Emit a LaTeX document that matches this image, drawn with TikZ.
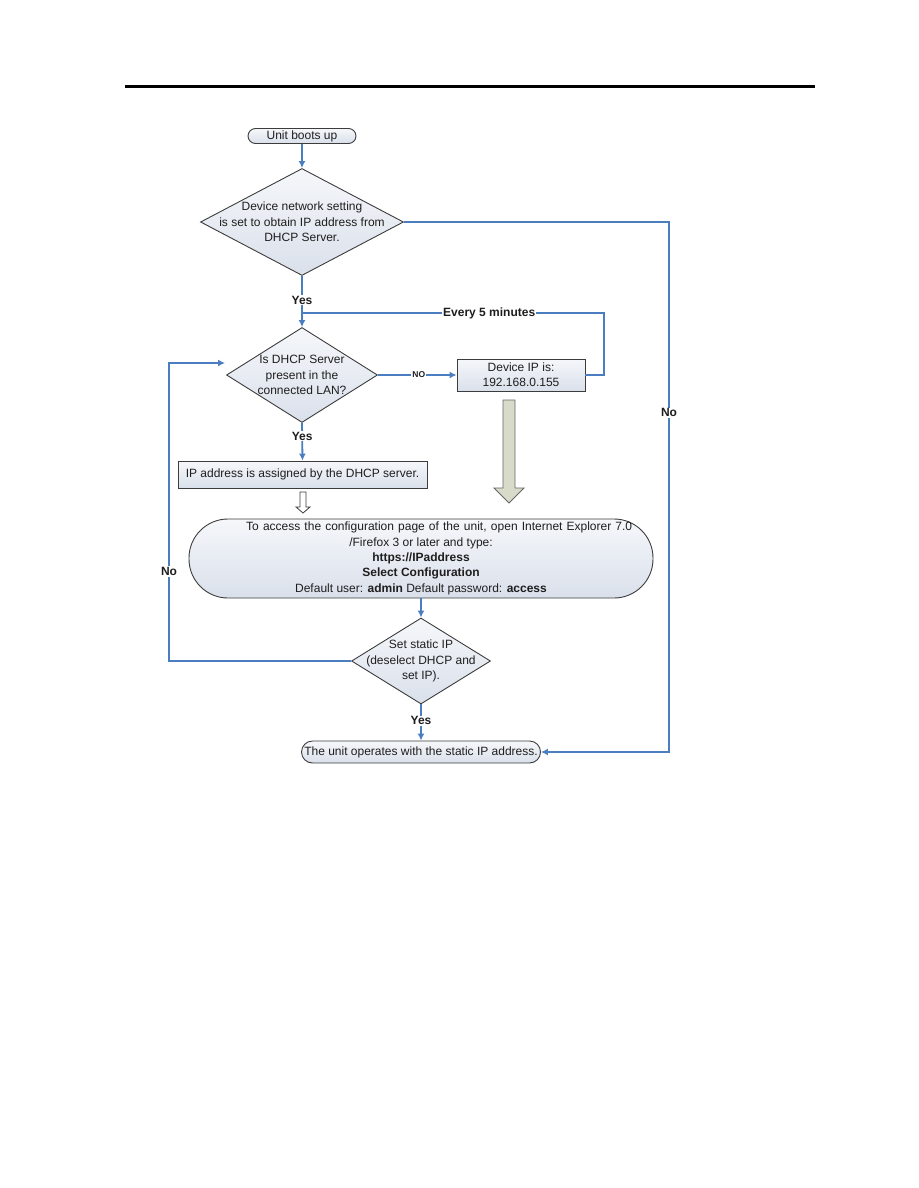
\documentclass[tikz,border=0pt]{standalone}
\usepackage{fontspec}
\setmainfont{Liberation Sans}
\usetikzlibrary{shapes.geometric,arrows.meta}
\definecolor{lineblue}{RGB}{74,126,192}
\definecolor{fillA}{RGB}{245,247,250}
\definecolor{fillB}{RGB}{218,224,235}
\definecolor{border}{RGB}{60,60,60}
\definecolor{txt}{RGB}{30,30,30}
\definecolor{bigarrow}{RGB}{216,218,202}
\tikzset{
  shp/.style={draw=border, line width=0.9pt, top color=fillA, bottom color=fillB, inner sep=0pt, text=txt},
  dia/.style={shp, diamond},
  boxn/.style={shp, rectangle},
  pill/.style={shp, rectangle},
  lbl/.style={align=center, text=txt, font=\fontsize{12}{15.3}\selectfont, inner sep=0pt},
  conn/.style={draw=lineblue, line width=1.8pt},
  arr/.style={conn, -{Latex[length=7pt,width=7pt]}},
  tag/.style={fill=white, inner sep=1pt, font=\fontsize{12}{14}\selectfont\bfseries, text=txt},
}
\begin{document}
\begin{tikzpicture}[x=1pt,y=-1pt]
\useasboundingbox (0,0) rectangle (918,1188);
% top rule
\draw[line width=3pt] (125,87) -- (815,87);

% nodes
\node[pill, minimum width=108, minimum height=15, rounded corners=7.5] (start) at (302,136) {};
\node[lbl] at (start) {Unit boots up};

\node[dia, minimum width=203, minimum height=107] (d1) at (302,222) {};
\node[lbl] at (d1) {Device network setting\\is set to obtain IP address from\\DHCP Server.};

\node[dia, minimum width=151, minimum height=95] (d2) at (302,375) {};
\node[lbl] at (d2) {Is DHCP Server\\present in the\\connected LAN?};

\node[boxn, minimum width=128, minimum height=32] (devip) at (521,375) {};
\node[lbl] at (devip) {Device IP is:\\192.168.0.155};

\node[boxn, minimum width=249, minimum height=27] (assign) at (302.5,474.5) {};
\node[lbl] at (assign) {IP address is assigned by the DHCP server.};

\node[pill, minimum width=464, minimum height=79, rounded corners=39] (access) at (421,558.5) {};
\node[lbl, anchor=west] (accessA) at (246,527.5) {\hbox to 386pt{To access the configuration page of the unit, open Internet Explorer 7.0}};
\node[lbl] (accessB) at (421,566) {/Firefox 3 or later and type:\\\textbf{https://IPaddress}\\\textbf{Select Configuration}\\Default user: \textbf{admin} Default password: \textbf{access}};

\node[dia, minimum width=139, minimum height=86] (d3) at (421,661) {};
\node[lbl] at (d3) {Set static IP\\(deselect DHCP and\\set IP).};

\node[pill, minimum width=239, minimum height=22, rounded corners=11] (final) at (421,752) {};
\node[lbl] at (final) {The unit operates with the static IP address.};

% helper coordinates
\coordinate (loopR) at (604,375);
\coordinate (loopT) at (604,313);
\coordinate (loopJ) at (302,313);
\coordinate (noL1) at (169,661);
\coordinate (noL2) at (169,363);
\coordinate (noL3) at (225,363);
\coordinate (noR1) at (669,222);
\coordinate (noR2) at (669,752);

% connectors
\draw[arr] (start.south) -- (d1.north);
\draw[arr] (d1.south) -- node[tag, pos=0.47] {Yes} (d2.north);
\draw[conn] (devip.east) -- (loopR) -- (loopT) -- node[tag, pos=0.38] {Every 5 minutes} (loopJ);
\draw[arr] (d2.east) -- node[tag, font=\fontsize{8.5}{10}\selectfont\bfseries, pos=0.52] {NO} (devip.west);
\draw[arr] (d2.south) -- node[tag, pos=0.35] {Yes} (assign.north);
\draw[arr] (access.south) -- (d3.north);
\draw[arr] (d3.west) -- (noL1) -- node[tag, pos=0.30] {No} (noL2) -- (noL3);
\draw[arr] (d3.south) -- node[tag, pos=0.45] {Yes} (final.north);
\draw[arr] (d1.east) -- (noR1) -- node[tag, pos=0.36] {No} (noR2) -- (final.east);

% big gray arrow
\draw[draw=gray!80!black, line width=0.8pt, fill=bigarrow]
  (503,400) -- (515,400) -- (515,488) -- (524,488) -- (509,503) -- (494,488) -- (503,488) -- cycle;
% small hollow arrow
\draw[draw=border, line width=0.8pt, fill=white]
  (300,492) -- (306,492) -- (306,507) -- (310,507) -- (303,513) -- (296,507) -- (300,507) -- cycle;
\end{tikzpicture}
\end{document}
